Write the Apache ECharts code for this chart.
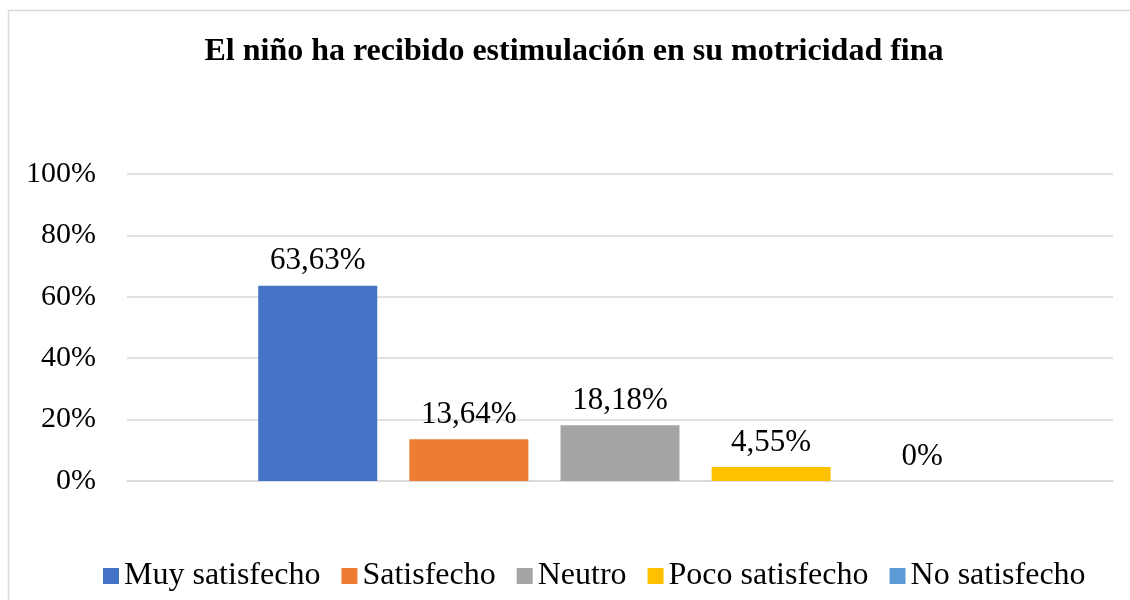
<!DOCTYPE html>
<html>
<head>
<meta charset="utf-8">
<script src="https://cdn.jsdelivr.net/npm/echarts@6/dist/echarts.min.js"></script>
<style>
  html, body { margin: 0; padding: 0; background: #fff; }
  #chart { width: 1130px; height: 600px; }
</style>
</head>
<body>
<div id="chart"></div>
<script>
const categories = ['']
const seriesNames = ['Muy satisfecho', 'Satisfecho', 'Neutro', 'Poco satisfecho', 'No satisfecho']
const seriesValues = [63.63, 13.64, 18.18, 4.55, 0]
const seriesLabels = ['63,63%', '13,64%', '18,18%', '4,55%', '0%']
const colors = ['#4472C4', '#ED7D31', '#A5A5A5', '#FFC000', '#5B9BD5']

const font = 'Liberation Serif'
const chart = echarts.init(document.getElementById('chart'))

const option = {
  animation: false,
  color: colors,
  title: {
    text: 'El niño ha recibido estimulación en su motricidad fina',
    left: 569,
    textAlign: 'center',
    top: 31,
    textStyle: { fontFamily: font, fontSize: 32, fontWeight: 'bold', color: '#000' }
  },
  graphic: [{
    type: 'rect',
    shape: { x: 8.5, y: 10.5, width: 1200, height: 700 },
    style: { fill: 'none', stroke: '#d9d9d9', lineWidth: 1.5 },
    silent: true
  }],
  legend: {
    left: 98,
    top: 555,
    icon: 'rect',
    itemWidth: 16,
    itemHeight: 16,
    itemGap: 21,
    textStyle: { fontFamily: font, fontSize: 32, color: '#000' }
  },
  grid: { left: 127, right: 17, top: 174, bottom: 119 },
  xAxis: {
    type: 'category',
    data: categories,
    axisLine: { lineStyle: { color: '#d9d9d9', width: 1.5 } },
    axisTick: { show: false },
    axisLabel: { show: false }
  },
  yAxis: {
    type: 'value',
    min: 0,
    max: 100,
    interval: 20,
    axisLine: { show: false },
    axisTick: { show: false },
    axisLabel: { formatter: '{value}%', margin: 31, fontFamily: font, fontSize: 30, color: '#000' },
    splitLine: { lineStyle: { color: '#d9d9d9', width: 1.5 } }
  },
  series: seriesNames.map((name, i) => ({
    name: name,
    type: 'bar',
    data: [seriesValues[i]],
    barWidth: 119,
    barGap: '27%',
    label: {
      show: true,
      position: 'top',
      distance: 9,
      formatter: () => seriesLabels[i],
      fontFamily: font,
      fontSize: 31,
      color: '#000'
    }
  }))
}

chart.setOption(option)
</script>
</body>
</html>
